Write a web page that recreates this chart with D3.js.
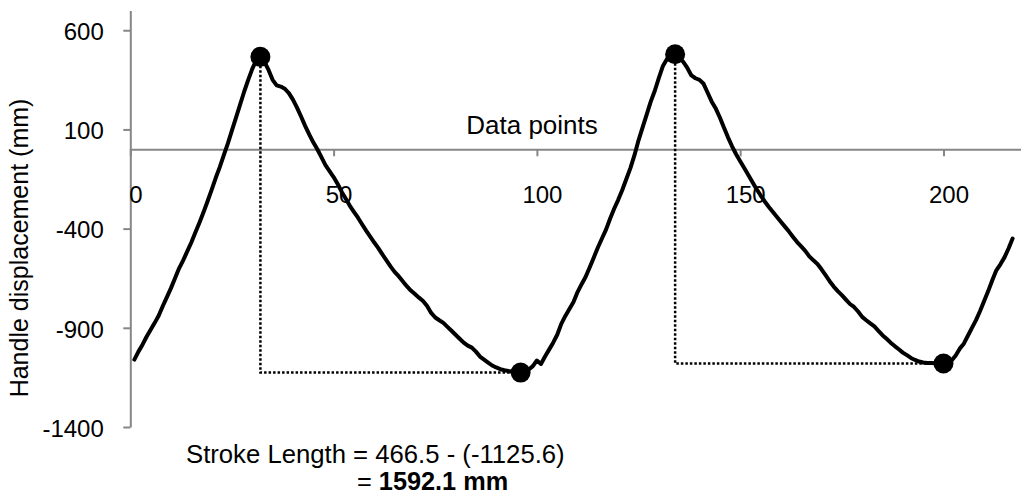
<!DOCTYPE html>
<html>
<head>
<meta charset="utf-8">
<script src="https://cdn.jsdelivr.net/npm/d3@7"></script>
<style>
  html, body { margin: 0; padding: 0; background: #ffffff; }
  svg { display: block; font-family: "Liberation Sans", Arial, sans-serif; }
</style>
</head>
<body>
<svg id="chart" width="1021" height="500"></svg>
<script>
// Handle displacement (mm) for each recorded data point, starting at point 1
const displacement = [
  -1060, -1020, -985, -945, -910, -875, -838, -790, -745, -700,
  -650, -600, -560, -515, -470, -420, -370, -318, -262, -205,
  -145, -90, -30, 30, 95, 160, 225, 290, 350, 405,
  450, 466.5, 440, 400, 350, 322, 316, 305, 283, 250,
  210, 165, 118, 75, 35, 0, -40, -80, -110, -140,
  -175, -215, -250, -285, -315, -345, -378, -410, -440, -470,
  -498, -530, -560, -590, -618, -640, -665, -690, -712, -730,
  -748, -765, -790, -825, -848, -862, -875, -895, -915, -935,
  -955, -975, -990, -1000, -1020, -1045, -1060, -1075, -1090, -1100,
  -1108, -1114, -1118, -1121, -1123, -1125.6, -1118, -1110, -1093, -1065,
  -1082, -1045, -1010, -975, -935, -880, -840, -805, -770, -720,
  -680, -643, -595, -545, -495, -450, -405, -350, -300, -255,
  -205, -150, -95, -30, 45, 110, 175, 240, 295, 360,
  420, 455, 470, 479, 462, 440, 410, 372, 358, 350,
  330, 285, 240, 205, 160, 110, 60, 15, -25, -60,
  -95, -130, -165, -200, -232, -262, -290, -315, -340, -365,
  -390, -415, -442, -468, -490, -512, -540, -560, -578, -605,
  -635, -665, -692, -715, -735, -758, -780, -795, -818, -845,
  -862, -878, -893, -915, -937, -955, -975, -992, -1008, -1025,
  -1038, -1052, -1062, -1070, -1075, -1077, -1078, -1079, -1079, -1080,
  -1072, -1065, -1040, -1005, -980, -940, -900, -861, -815, -765,
  -715, -660, -610, -580, -545, -500, -450
];

// Peaks and troughs picked out on the trace: [data point, displacement]
const peaks = [[32, 466.5], [134, 479]];
const troughs = [[96, -1125.6], [200, -1080]];

const xTicks = [0, 50, 100, 150, 200];
const yTicks = [-1400, -900, -400, 100, 600];

const axisColor = "#868686";
const svg = d3.select("#chart");

const x = d3.scaleLinear().domain([0, 220]).range([130.3, 1024.8]);
const y = d3.scaleLinear().domain([-1400, 700]).range([427, 10.4]);

// Vertical axis
const yAxis = svg.append("g")
  .attr("transform", `translate(${x(0)},0)`)
  .call(d3.axisLeft(y).tickValues(yTicks).tickFormat(d => String(d))
    .tickSize(7).tickSizeOuter(0).tickPadding(19.5));
yAxis.select(".domain").attr("stroke", axisColor).attr("stroke-width", 2);
yAxis.selectAll(".tick line").attr("stroke", axisColor).attr("stroke-width", 2);
yAxis.selectAll(".tick text")
  .attr("fill", "#000").attr("font-size", 24)
  .attr("font-family", "Liberation Sans, Arial, sans-serif")
  .attr("dy", "0.39em");

// Horizontal axis crossing at zero
const xAxis = svg.append("g")
  .attr("transform", `translate(0,${y(0)})`)
  .call(d3.axisBottom(x).tickValues(xTicks).tickFormat(d => String(d))
    .tickSize(7).tickSizeOuter(0));
xAxis.select(".domain").attr("stroke", axisColor).attr("stroke-width", 2);
xAxis.selectAll(".tick line").attr("stroke", axisColor).attr("stroke-width", 2);
xAxis.selectAll(".tick text")
  .attr("fill", "#000").attr("font-size", 24)
  .attr("font-family", "Liberation Sans, Arial, sans-serif")
  .attr("x", 5).attr("y", 53.4).attr("dy", 0);

// Axis titles
svg.append("text")
  .attr("x", 532).attr("y", 134)
  .attr("text-anchor", "middle")
  .attr("font-size", 26)
  .text("Data points");

svg.append("text")
  .attr("transform", "translate(28,248) rotate(-90)")
  .attr("text-anchor", "middle")
  .attr("font-size", 25)
  .text("Handle displacement (mm)");

// Dotted guides from each peak down to the level of the following trough
const guides = peaks.map((p, i) => [p, [p[0], troughs[i][1]], troughs[i]]);
const guideLine = d3.line().x(d => x(d[0])).y(d => y(d[1]));
svg.append("g").selectAll("path").data(guides).join("path")
  .attr("d", guideLine)
  .attr("fill", "none")
  .attr("stroke", "#000")
  .attr("stroke-width", 2.5)
  .attr("stroke-dasharray", "2.5,2");

// Displacement trace
const trace = d3.line()
  .x((d, i) => x(i + 1))
  .y(d => y(d));
svg.append("path")
  .datum(displacement)
  .attr("d", trace)
  .attr("fill", "none")
  .attr("stroke", "#000")
  .attr("stroke-width", 4)
  .attr("stroke-linejoin", "round")
  .attr("stroke-linecap", "round");

// Peak and trough markers
svg.append("g").selectAll("circle").data(peaks.concat(troughs)).join("circle")
  .attr("cx", d => x(d[0]))
  .attr("cy", d => y(d[1]))
  .attr("r", 10)
  .attr("fill", "#000");

// Stroke length annotation
svg.append("text")
  .attr("x", 186).attr("y", 463)
  .attr("font-size", 25.7)
  .text("Stroke Length = 466.5 - (-1125.6)");

const result = svg.append("text")
  .attr("x", 357).attr("y", 490)
  .attr("font-size", 25.3);
result.append("tspan").text("= ");
result.append("tspan").attr("font-weight", "bold").text("1592.1 mm");
</script>
</body>
</html>
